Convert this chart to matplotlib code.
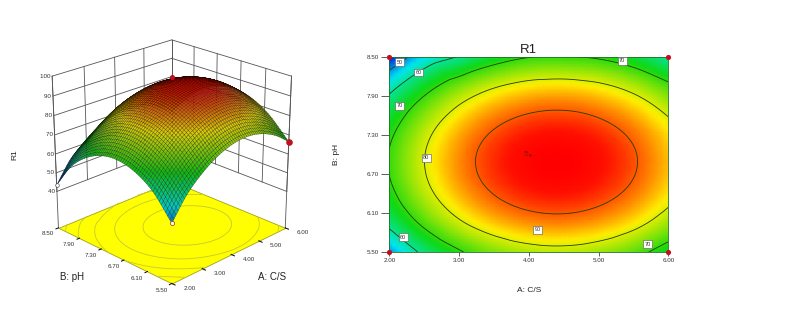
import numpy as np
import matplotlib
matplotlib.use('Agg')
import matplotlib.pyplot as plt
import matplotlib.tri as mtri
from matplotlib.colors import LinearSegmentedColormap, Normalize

plt.rcParams['font.family'] = ['Liberation Sans', 'DejaVu Sans']

# --- data ---
cs_grid = [2.0, 2.5, 3.0, 3.5, 4.0, 4.5, 5.0, 5.5, 6.0]
ph_grid = [5.5, 6.0, 6.5, 7.0, 7.5, 8.0, 8.5]
r1_table = [
    [50.5, 61.8, 69.2, 74.3, 77.2, 77.9, 76.3, 72.5, 66.5],
    [63.0, 72.5, 79.9, 85.0, 87.9, 88.6, 87.0, 83.2, 77.2],
    [69.0, 78.5, 85.9, 91.0, 93.9, 94.6, 93.0, 89.2, 83.2],
    [70.3, 79.8, 87.2, 92.3, 95.2, 95.9, 94.3, 90.5, 84.5],
    [66.8, 76.3, 83.7, 88.8, 91.7, 92.4, 90.8, 87.0, 81.0],
    [58.5, 68.0, 75.4, 80.5, 83.4, 84.1, 82.5, 78.7, 72.7],
    [43.5, 55.0, 60.5, 66.5, 69.8, 70.2, 69.2, 65.7, 59.7],
]
cs_ticks = [2.0, 3.0, 4.0, 5.0, 6.0]
ph_ticks = [5.5, 6.1, 6.7, 7.3, 7.9, 8.5]
r1_ticks = [40, 50, 60, 70, 80, 90, 100]
contour_levels = [50, 60, 70, 80, 90]
# contour labels: (A, pH, text)
label_cs = [2.15, 2.42, 2.15, 2.53, 4.13, 5.34, 2.2, 5.7]
label_ph = [8.42, 8.26, 7.75, 6.95, 5.84, 8.44, 5.73, 5.62]
label_txt = ['50', '60', '70', '80', '90', '70', '60', '70']
corner_cs = [2.0, 2.0, 6.0, 6.0]
corner_ph = [5.5, 8.5, 5.5, 8.5]
center_cs = 4.0
center_ph = 7.0
center_txt = '5'

color_levels = [43, 55, 68, 82, 94, 96]
color_names = ['#0010e0', '#00e8f0', '#10d810', '#fff000', '#ff1000', '#ff0000']

norm = Normalize(color_levels[0], color_levels[-1])
cmap = LinearSegmentedColormap.from_list(
    'r1', [((v - color_levels[0]) / (color_levels[-1] - color_levels[0]), c)
           for v, c in zip(color_levels, color_names)])

# smooth the table for drawing
gx, gy = np.meshgrid(cs_grid, ph_grid)
tri = mtri.Triangulation(gx.ravel(), gy.ravel())
interp = mtri.CubicTriInterpolator(tri, np.array(r1_table).ravel(), kind='geom')
X, Y = np.meshgrid(np.linspace(2, 6, 61), np.linspace(5.5, 8.5, 61))
Z = np.ma.filled(interp(X, Y), 50.0)

W, H = 791, 322
fig = plt.figure(figsize=(W / 100, H / 100), dpi=100)

# --- contour plot ---
ax2 = fig.add_axes([389.3 / W, 1 - 252 / H, 279 / W, 195 / H])
ax2.pcolormesh(X, Y, Z, cmap=cmap, norm=norm, shading='gouraud')
ax2.contour(X, Y, Z, levels=contour_levels, colors='#204000', linewidths=0.6)
ax2.set_xlim(2, 6)
ax2.set_ylim(5.5, 8.5)
ax2.set_xticks(cs_ticks)
ax2.set_xticklabels(['%.2f' % v for v in cs_ticks])
ax2.set_yticks(ph_ticks)
ax2.set_yticklabels(['%.2f' % v for v in ph_ticks])
ax2.tick_params(labelsize=4.5, length=6, width=0.6, color='#444444', pad=1.5, labelcolor='#333333')
ax2.tick_params(axis='x', length=3)
for s in ax2.spines.values():
    s.set_linewidth(0.6)
    s.set_color('#207020')
ax2.set_title('R1', fontsize=9.5, pad=3, color='#222222')
ax2.set_xlabel('A: C/S', fontsize=6, labelpad=17, color='#222222')
ax2.set_ylabel('B: pH', fontsize=6, labelpad=19, color='#222222')
for a, b, t in zip(label_cs, label_ph, label_txt):
    ax2.text(a, b, t, fontsize=4, ha='center', va='center', color='#333333',
             bbox=dict(boxstyle='square,pad=0.25', fc='white', ec='#555555', lw=0.4))
ax2.scatter(corner_cs, corner_ph, s=14, c='#c01020', clip_on=False, zorder=5, lw=0)
ax2.text(center_cs, center_ph, center_txt, fontsize=6, color='#901010', ha='right', va='center')
ax2.scatter([center_cs + 0.02], [center_ph], s=3, c='#901010', lw=0, zorder=5)

# --- 3D surface ---
z_floor = 20
ax = fig.add_axes([0.0125, 0.08, 0.40, 0.86], projection='3d', computed_zorder=False)
ax.set_proj_type('persp', focal_length=0.8)
ax.view_init(elev=23, azim=-135)
ax.set_box_aspect((1, 1, 1.0))
ax.set_xlim(2, 6)
ax.set_ylim(5.5, 8.5)
ax.set_zlim(z_floor, 100)
ax.set_axis_off()
ax.patch.set_alpha(0)

wall = dict(color='#555555', lw=0.6, zorder=1)
for v in r1_ticks:
    ax.plot([2, 6], [8.5, 8.5], [v, v], **wall)
    ax.plot([6, 6], [5.5, 8.5], [v, v], **wall)
for v in cs_ticks:
    ax.plot([v, v], [8.5, 8.5], [40, 100], **wall)
for v in ph_ticks:
    ax.plot([6, 6], [v, v], [40, 100], **wall)
ax.plot([2, 2], [8.5, 8.5], [z_floor, 100], **wall)
ax.plot([6, 6], [5.5, 5.5], [z_floor, 100], **wall)

# floor with contours
ax.plot_surface(np.array([[2, 6], [2, 6]]), np.array([[5.5, 5.5], [8.5, 8.5]]),
                np.full((2, 2), float(z_floor)), color='#ffff00', shade=False, zorder=2,
                edgecolor='#a0a020', linewidth=0.6)
ax.contour(X, Y, Z, levels=contour_levels, zdir='z', offset=z_floor, colors='#c8c830',
           linewidths=0.6, zorder=3)

# surface is darker than the contour map
face = cmap(norm(Z))
face[..., :3] *= 0.85
ax.plot_surface(X, Y, Z, facecolors=face, rstride=1, cstride=1, shade=False,
                edgecolor='#000000', linewidth=0.15, antialiased=True, zorder=4)

# design points at the corners
ax.scatter([6], [5.5], [Z[0, -1]], s=14, c='#c01020', zorder=6, depthshade=False)
ax.scatter([2], [8.5], [Z[-1, 0]], s=7, c='white', edgecolors='#333333', lw=0.4, zorder=6, depthshade=False)
ax.scatter([2], [5.5], [Z[0, 0]], s=9, c='white', edgecolors='#b05000', lw=0.6, zorder=6, depthshade=False)
ax.scatter([6], [8.5], [Z[-1, -1] + 20], s=7, c='#c01020', zorder=6, depthshade=False)

# ticks on the floor edges
for v in cs_ticks:
    ax.plot([v, v], [5.5, 5.42], [z_floor, z_floor], color='k', lw=0.7, zorder=3)
    ax.text(v + 0.12, 5.5 - 0.34, z_floor, '%.2f' % v, fontsize=4.5, ha='center', va='center', color='#333333', zorder=7)
for v in ph_ticks:
    ax.plot([2, 1.92], [v, v], [z_floor, z_floor], color='k', lw=0.7, zorder=3)
    ax.text(2 - 0.4, v - 0.05, z_floor, '%.2f' % v, fontsize=4.5, ha='center', va='center', color='#333333', zorder=7)
for v in r1_ticks:
    ax.text(2, 8.5, v, '%d ' % v, fontsize=4.5, ha='right', va='center', color='#333333', zorder=7)

fig.text(72 / W, 1 - 277 / H, 'B: pH', fontsize=7, ha='center', va='center', color='#222222')
fig.text(272 / W, 1 - 277 / H, 'A: C/S', fontsize=7, ha='center', va='center', color='#222222')
fig.text(15 / W, 1 - 155 / H, 'R1', fontsize=6, rotation=90, ha='center', va='center', color='#222222')

fig.savefig('out.png', dpi=100)
